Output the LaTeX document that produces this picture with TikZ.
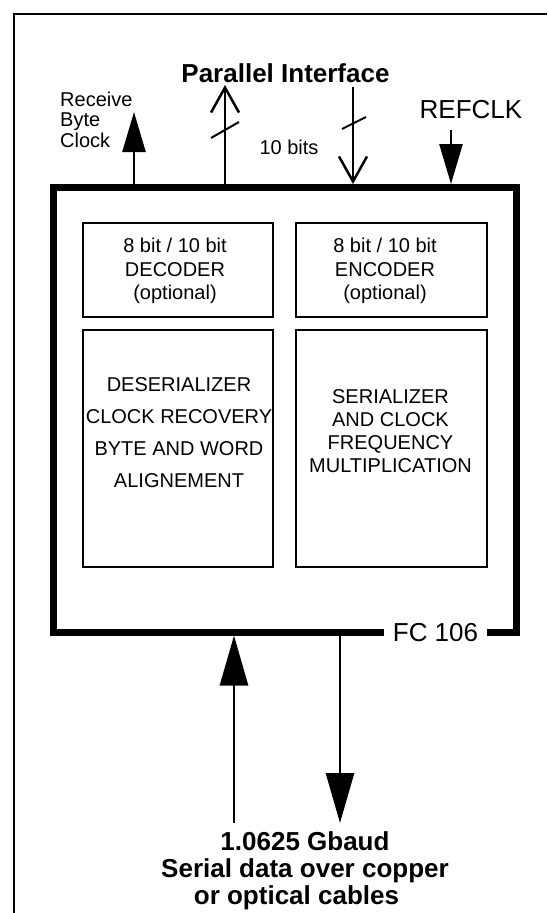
\documentclass[tikz,border=0pt]{standalone}
\usepackage{fontspec}
\setmainfont{Liberation Sans}
\usetikzlibrary{arrows.meta}
\begin{document}
\begin{tikzpicture}[x=1pt,y=-1pt,
  blk/.style={draw, line width=1.8pt, inner sep=0pt},
  small/.style={font=\fontsize{20}{23.5}\selectfont, align=center, inner sep=0pt},
  big/.style={font=\fontsize{26}{27}\selectfont\bfseries, align=center, inner sep=0pt},
  mid/.style={font=\fontsize{26}{28}\selectfont, inner sep=0pt},
  fillarrow/.style={line width=2.5pt, -{Triangle[length=40pt,width=23pt]}},
  bigarrow/.style={line width=2.8pt, -{Triangle[length=50pt,width=28pt]}},
  openarrow/.style={line width=2.5pt, -{Straight Barb[length=25pt,width=28pt,line width=2.5pt]}},
  slash/.style={line width=2pt}
]
\useasboundingbox (0,0) rectangle (547,913);
% outer frame
\draw[line width=2pt] (547,14) -| (14,913);

% chip
\node[draw, line width=7pt, minimum width=463pt, minimum height=444.5pt, inner sep=0pt] (chip) at (285,409.75) {};
\node[fill=white, mid, inner xsep=9pt, inner ysep=6pt] (fc) at (435.5,633) {FC 106};

% inner blocks
\node[blk, minimum width=190pt, minimum height=94pt] (dec) at (178,270) {};
\node[blk, minimum width=191pt, minimum height=94pt] (enc) at (391.5,270) {};
\node[blk, minimum width=190pt, minimum height=237pt] (des) at (178,448.5) {};
\node[blk, minimum width=191pt, minimum height=237pt] (ser) at (391.5,448.5) {};

\node[small] (dect) at (175,271) {8 bit / 10 bit\\DECODER\\(optional)};
\node[small] (enct) at (385,271) {8 bit / 10 bit\\ENCODER\\(optional)};
\node[small, font=\fontsize{20}{32}\selectfont] (dest) at (179,433) {DESERIALIZER\\CLOCK RECOVERY\\BYTE AND WORD\\ALIGNEMENT};
\node[small, font=\fontsize{20}{23}\selectfont] (sert) at (390.5,431) {SERIALIZER\\AND CLOCK\\FREQUENCY\\MULTIPLICATION};

% top labels
\node[big] (pi) at (285.5,73) {Parallel Interface};
\node[small, align=left, anchor=west, font=\fontsize{20}{20.5}\selectfont] (rbct) at (60,119.5) {Receive\\Byte\\Clock};
\node[small] (tenb) at (289,147) {10 bits};
\node[mid] (refclk) at (471,110) {REFCLK};

% top arrows
\coordinate (rbc) at (134,112);
\draw[fillarrow] (chip.north -| rbc) -- (rbc);
\coordinate (pout) at (225,85);
\draw[openarrow] (chip.north -| pout) -- (pout);
\coordinate (pin) at (353,87);
\draw[openarrow] (pin) -- (chip.north -| pin);
\coordinate (ref) at (451,130);
\draw[fillarrow] (ref) -- (chip.north -| ref);

% bus slashes
\coordinate (s1) at (225,130);
\coordinate (s2) at (354,123);
\draw[slash] ([shift={(-14,8)}]s1) -- ([shift={(14,-8)}]s1);
\draw[slash] ([shift={(-12,6)}]s2) -- ([shift={(12,-6)}]s2);

% bottom arrows
\coordinate (sin) at (234,823);
\draw[bigarrow] (sin) -- (chip.south -| sin);
\coordinate (sout) at (340,823);
\draw[bigarrow] (chip.south -| sout) -- (sout);

\node[big] (serial) at (305,871) {1.0625 Gbaud\\Serial data over copper\\\hspace*{-17pt}or optical cables};
\end{tikzpicture}
\end{document}
